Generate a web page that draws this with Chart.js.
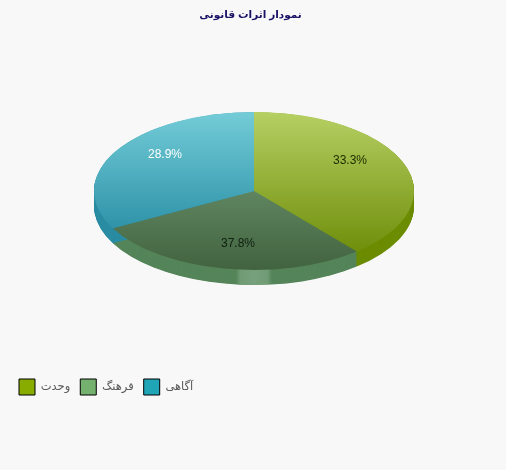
<!DOCTYPE html>
<html lang="fa">
<head>
<meta charset="utf-8">
<title>نمودار اثرات قانونی</title>
<script src="https://cdn.jsdelivr.net/npm/chart.js@4"></script>
<style>
  html, body { margin: 0; padding: 0; background: #f8f8f8; }
  canvas { display: block; }
</style>
</head>
<body>
<canvas id="pie" width="506" height="470"></canvas>
<script>
// legend names
const categories = ['وحدت', 'فرهنگ', 'آگاهی'];
// slice sizes (%), the original's wedges do not follow its printed numbers
const sliceShares = [38.9, 28.3, 32.8];
// numbers printed on the slices
const printedLabels = ['33.3%', '37.8%', '28.9%'];

const PIE = { cx: 254, cy: 191, r: 160, squash: 0.494, depth: 15 };
const FONT = "'Liberation Sans', 'DejaVu Sans', sans-serif";

const legendColors = ['#88ac00', '#74b06e', '#1fa5b5'];
const sideColors = ['#6c8c02', '#55855a', '#2a8ca2'];
const faceStops = [
  [[0, '#b6d063'], [1, '#668600']],
  [[0, '#72a070'], [0.5, '#5f8560'], [1, '#42633f']],
  [[0, '#73ccd7'], [0.75, '#2e92a8'], [1, '#2e92a8']]
];
const labelSpots = [[350, 161, '#1c2a00'], [238, 244, '#0e1f0e'], [165, 155, '#ffffff']];

function faceGradient(context) {
  const chart = context.chart;
  if (!chart.chartArea) return legendColors[context.dataIndex];
  const mid = (chart.chartArea.top + chart.chartArea.bottom) / 2;
  const g = chart.ctx.createLinearGradient(0, mid - PIE.r, 0, mid + PIE.r);
  faceStops[context.dataIndex].forEach(s => g.addColorStop(s[0], s[1]));
  return g;
}

// Chart.js only does round pies, so squash the canvas while the arcs are drawn
const tiltPlugin = {
  id: 'tilt',
  beforeDatasetDraw(chart) {
    const ctx = chart.ctx;
    const arcs = chart.getDatasetMeta(0).data;
    const ax = arcs[0].x, ay = arcs[0].y;

    ctx.save();
    ctx.translate(PIE.cx, PIE.cy);
    ctx.scale(1, PIE.squash);
    ctx.translate(-ax, -ay);

    // rim: same wedges, stacked downward
    arcs.forEach((arc, i) => {
      ctx.fillStyle = sideColors[i];
      for (let d = PIE.depth / PIE.squash; d > 0; d -= 1) {
        ctx.beginPath();
        ctx.moveTo(ax, ay + d);
        ctx.arc(ax, ay + d, arc.outerRadius, arc.startAngle, arc.endAngle);
        ctx.closePath();
        ctx.fill();
      }
    });

    // light patch on the front of the rim
    ctx.save();
    ctx.beginPath();
    ctx.arc(ax, ay + PIE.depth / PIE.squash, arcs[0].outerRadius, 0, Math.PI * 2);
    ctx.clip();
    const x0 = ax - 18, x1 = ax + 18;
    const shine = ctx.createLinearGradient(x0, 0, x1, 0);
    shine.addColorStop(0, 'rgba(130,170,135,0)');
    shine.addColorStop(0.12, 'rgba(130,170,135,0.6)');
    shine.addColorStop(0.5, 'rgba(130,170,135,0.75)');
    shine.addColorStop(0.88, 'rgba(130,170,135,0.6)');
    shine.addColorStop(1, 'rgba(130,170,135,0)');
    ctx.fillStyle = shine;
    ctx.fillRect(x0, ay, x1 - x0, arcs[0].outerRadius + 40);
    ctx.restore();
  },
  afterDatasetDraw(chart) {
    const ctx = chart.ctx;
    ctx.restore();

    ctx.font = '12px ' + FONT;
    ctx.textAlign = 'center';
    ctx.textBaseline = 'middle';
    printedLabels.forEach((txt, i) => {
      ctx.fillStyle = labelSpots[i][2];
      ctx.fillText(txt, labelSpots[i][0], labelSpots[i][1]);
    });
  }
};

new Chart(document.getElementById('pie').getContext('2d'), {
  type: 'pie',
  data: {
    labels: categories,
    datasets: [{
      data: sliceShares,
      backgroundColor: faceGradient,
      borderWidth: 0,
      radius: PIE.r
    }]
  },
  options: {
    responsive: false,
    animation: false,
    layout: { padding: { left: 9, right: 14, bottom: 65 } },
    plugins: {
      tooltip: { enabled: false },
      title: {
        display: true,
        text: 'نمودار اثرات قانونی',
        color: '#1a1266',
        font: { family: FONT, size: 10.5, weight: 'bold' },
        padding: { top: 9, bottom: 8 }
      },
      legend: {
        position: 'bottom',
        align: 'start',
        labels: {
          boxWidth: 16,
          boxHeight: 16,
          padding: 10,
          font: { family: FONT, size: 11.5 },
          generateLabels: () => categories.map((name, i) => ({
            text: name,
            fillStyle: legendColors[i],
            strokeStyle: '#000000',
            fontColor: '#5a5a5a',
            lineWidth: 1,
            lineJoin: 'miter',
            index: i
          }))
        }
      }
    }
  },
  plugins: [tiltPlugin]
});
</script>
</body>
</html>
